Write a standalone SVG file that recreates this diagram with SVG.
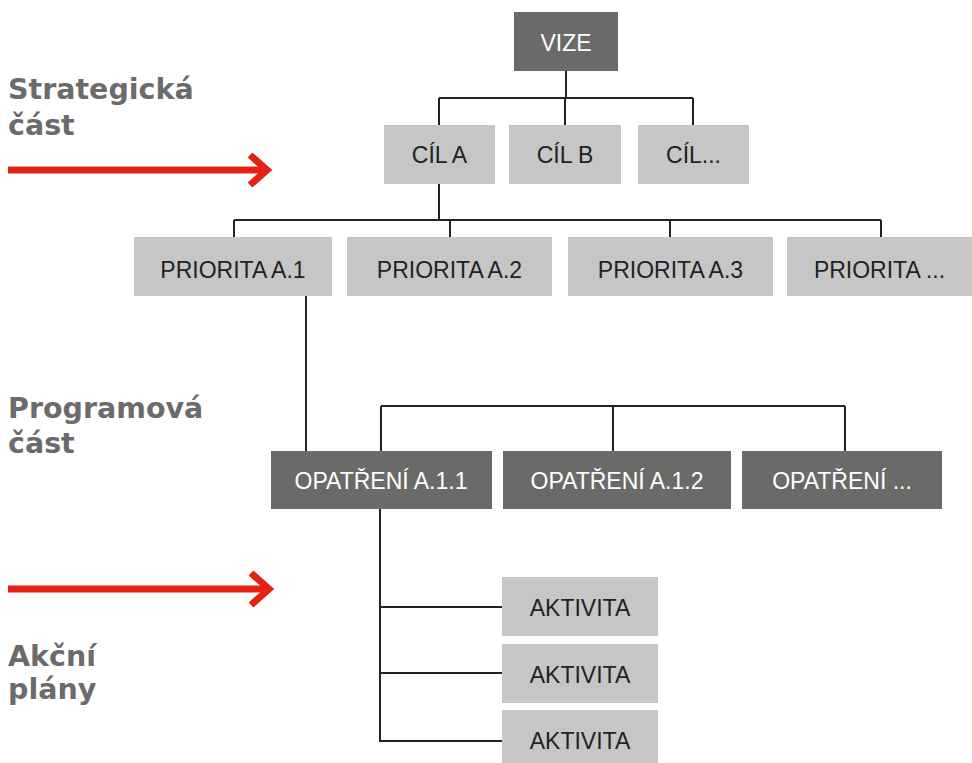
<svg xmlns="http://www.w3.org/2000/svg" width="972" height="763" viewBox="0 0 972 763">
<style>
.dark{fill:#6a6a69}
.light{fill:#c6c6c6}
.tl{font-family:"Liberation Sans",Arial,sans-serif;font-size:23px;fill:#222;text-anchor:middle}
.td{font-family:"Liberation Sans",Arial,sans-serif;font-size:23px;fill:#fff;text-anchor:middle}
.lab{font-family:"DejaVu Sans",sans-serif;font-weight:bold;font-size:28.5px;fill:#6b6b6b}
.con{stroke:#222;stroke-width:2;fill:none}
.arr{stroke:#e32213;stroke-width:7;fill:none}
</style>
<rect width="972" height="763" fill="#fff"/>
<g id="labels">
<text class="lab" x="8" y="99">Strategická</text>
<text class="lab" x="8" y="135">část</text>
<text class="lab" x="8" y="418">Programová</text>
<text class="lab" x="8" y="453">část</text>
<text class="lab" x="8" y="666">Akční</text>
<text class="lab" x="8" y="699">plány</text>
</g>
<g id="arrows">
<line class="arr" x1="8" y1="170" x2="264" y2="170"/>
<polyline class="arr" points="250,155 267,170 250,185"/>
<line class="arr" x1="8" y1="589" x2="266" y2="589"/>
<polyline class="arr" points="251,573 269,589 251,605"/>
</g>
<g id="connectors">
<path class="con" d="M566,71V98M439,98H693M439,98V125M565,98V125M693,98V125"/>
<path class="con" d="M439,184V220M234,220H881M234,220V237M450,220V237M670,220V237M881,220V237"/>
<path class="con" d="M306,296V451"/>
<path class="con" d="M381,406H845M381,406V451M613,406V451M845,406V451"/>
<path class="con" d="M380,509V741M380,607H502M380,673H502M379,741H502"/>
</g>
<g id="vize"><rect class="dark" x="514" y="12" width="104" height="59"/><text class="td" x="566" y="51">VIZE</text></g>
<g id="cil-a"><rect class="light" x="384" y="125" width="111" height="59"/><text class="tl" x="439.5" y="162.5">CÍL A</text></g>
<g id="cil-b"><rect class="light" x="509" y="125" width="112" height="59"/><text class="tl" x="565" y="162.5">CÍL B</text></g>
<g id="cil-x"><rect class="light" x="638" y="125" width="111" height="59"/><text class="tl" x="693.5" y="162.5">CÍL...</text></g>
<g id="priorita-a1"><rect class="light" x="134" y="237" width="198" height="59"/><text class="tl" x="233" y="277.5">PRIORITA A.1</text></g>
<g id="priorita-a2"><rect class="light" x="347" y="237" width="205" height="59"/><text class="tl" x="449.5" y="277.5">PRIORITA A.2</text></g>
<g id="priorita-a3"><rect class="light" x="568" y="237" width="205" height="59"/><text class="tl" x="670.5" y="277.5">PRIORITA A.3</text></g>
<g id="priorita-x"><rect class="light" x="787" y="237" width="185" height="59"/><text class="tl" x="879.5" y="277.5">PRIORITA ...</text></g>
<g id="opatreni-a11"><rect class="dark" x="271" y="451" width="221" height="58"/><text class="td" x="381" y="489">OPATŘENÍ A.1.1</text></g>
<g id="opatreni-a12"><rect class="dark" x="503" y="451" width="228" height="58"/><text class="td" x="617" y="489">OPATŘENÍ A.1.2</text></g>
<g id="opatreni-x"><rect class="dark" x="742" y="451" width="200" height="58"/><text class="td" x="842" y="489">OPATŘENÍ ...</text></g>
<g id="aktivita-1"><rect class="light" x="502" y="577" width="156" height="59"/><text class="tl" x="580" y="615.5">AKTIVITA</text></g>
<g id="aktivita-2"><rect class="light" x="502" y="644" width="156" height="59"/><text class="tl" x="580" y="682.5">AKTIVITA</text></g>
<g id="aktivita-3"><rect class="light" x="502" y="710" width="156" height="59"/><text class="tl" x="580" y="749">AKTIVITA</text></g>
</svg>
